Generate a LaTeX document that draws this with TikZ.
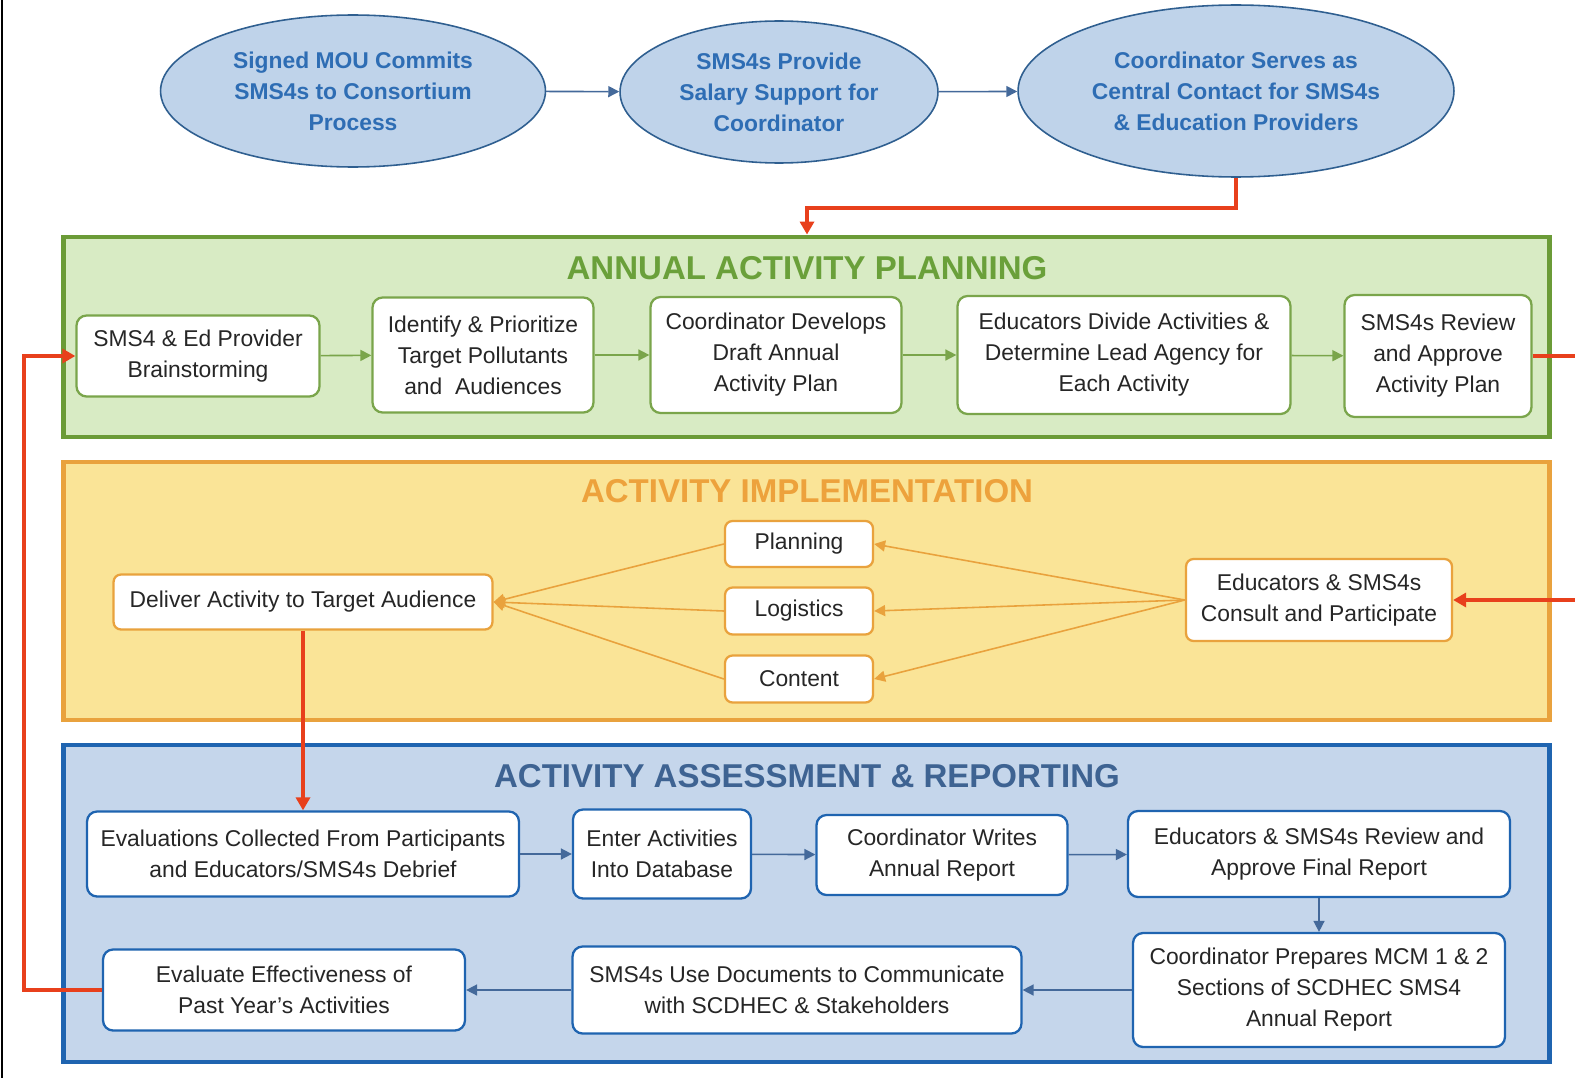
\documentclass[tikz,border=0pt]{standalone}
\usepackage{fontspec}
\setmainfont{Liberation Sans}
\usetikzlibrary{arrows.meta,shapes.geometric}

\definecolor{ovalfill}{HTML}{BFD3EA}
\definecolor{ovaldraw}{HTML}{2F5F90}
\definecolor{ovaltext}{HTML}{2E6DB4}
\definecolor{plangreen}{HTML}{6B9B37}
\definecolor{planfill}{HTML}{D8EBC4}
\definecolor{plantext}{HTML}{6AA03A}
\definecolor{implorange}{HTML}{E9A23D}
\definecolor{implfill}{HTML}{FAE497}
\definecolor{impltext}{HTML}{EDA23C}
\definecolor{assblue}{HTML}{1F64B0}
\definecolor{assfill}{HTML}{C5D6EB}
\definecolor{asstext}{HTML}{3E6392}
\definecolor{arrowblue}{HTML}{44699A}
\definecolor{loopred}{HTML}{E8401C}

\tikzset{
  body/.style={font=\fontsize{13}{17.6}\selectfont, text=black!85},
  frame/.style={rectangle, line width=2.8pt, minimum width=29.74cm},
  heading/.style={font=\fontsize{18.8}{22}\selectfont\bfseries},
  oval/.style={ellipse, draw=ovaldraw, fill=ovalfill, line width=0.9pt, inner sep=0pt,
    align=center, text=ovaltext, font=\fontsize{13}{17.6}\selectfont\bfseries},
  greenbox/.style={body, rectangle, rounded corners=0.2cm, draw=plangreen!90, fill=white,
    line width=1.3pt, align=center},
  orangebox/.style={body, rectangle, rounded corners=0.15cm, draw=implorange, fill=white,
    line width=1.3pt, align=center},
  bluebox/.style={body, rectangle, rounded corners=0.2cm, draw=assblue, fill=white,
    line width=1.3pt, align=center},
  greenarrow/.style={draw=plangreen!90, line width=0.9pt, -{Triangle[length=2.2mm,width=2.2mm]}},
  orangearrow/.style={draw=implorange, line width=0.9pt, -{Triangle[length=2.2mm,width=2.2mm]}},
  bluearrow/.style={draw=arrowblue, line width=0.9pt, -{Triangle[length=2.2mm,width=2.2mm]}},
  redline/.style={draw=loopred, line width=2.2pt, -{Triangle[length=2.6mm,width=2.8mm]}}
}

\begin{document}
\begin{tikzpicture}[x=0.02cm,y=-0.02cm]
  \useasboundingbox[fill=white] (0,0) rectangle (1575,1078);
  \draw[black, line width=0.8pt] (2,0) -- (2,1078);

  % top ovals
  \node[oval, minimum width=7.7cm, minimum height=3.04cm] (mou) at (353,91)
    {Signed MOU Commits\\SMS4s to Consortium\\Process};
  \node[oval, minimum width=6.36cm, minimum height=2.84cm] (support) at (779,92)
    {SMS4s Provide\\Salary Support for\\Coordinator};
  \node[oval, minimum width=8.72cm, minimum height=3.44cm] (central) at (1236,91)
    {Coordinator Serves as\\Central Contact for SMS4s\\\& Education Providers};
  \draw[bluearrow] (mou) -- (support);
  \draw[bluearrow] (support) -- (central);

  % the three frames
  \node[frame, draw=plangreen, fill=planfill, minimum height=4.0cm] (planframe) at (806.5,337) {};
  \node[frame, draw=implorange, fill=implfill, minimum height=5.16cm] (implframe) at (806.5,591) {};
  \node[frame, draw=assblue, fill=assfill, minimum height=6.34cm] (assframe) at (806.5,903.5) {};

  \node[heading, text=plantext] (plantitle) at (807,268) {ANNUAL ACTIVITY PLANNING};
  \node[heading, text=impltext] (impltitle) at (807,491) {ACTIVITY IMPLEMENTATION};
  \node[heading, text=asstext] (asstitle) at (807,776) {ACTIVITY ASSESSMENT \& REPORTING};

  % annual activity planning
  \node[greenbox, minimum width=4.86cm, minimum height=1.62cm] (brain) at (198,356)
    {SMS4 \& Ed Provider\\Brainstorming};
  \node[greenbox, minimum width=4.42cm, minimum height=2.30cm] (prioritize) at (483,355)
    {Identify \& Prioritize\\Target Pollutants\\and\ \ Audiences};
  \node[greenbox, minimum width=5.02cm, minimum height=2.32cm] (draft) at (776,355)
    {Coordinator Develops\\Draft Annual\\Activity Plan};
  \node[greenbox, minimum width=6.66cm, minimum height=2.36cm] (divide) at (1124,355)
    {Educators Divide Activities \&\\Determine Lead Agency for\\Each Activity};
  \node[greenbox, minimum width=3.74cm, minimum height=2.44cm] (approve) at (1438,356)
    {SMS4s Review\\and Approve\\Activity Plan};
  \draw[greenarrow] (brain) -- (prioritize);
  \draw[greenarrow] (prioritize) -- (draft);
  \draw[greenarrow] (draft) -- (divide);
  \draw[greenarrow] (divide) -- (approve);

  % activity implementation
  \node[orangebox, minimum width=7.58cm, minimum height=1.10cm] (deliver) at (303,602)
    {Deliver Activity to Target Audience};
  \node[orangebox, minimum width=2.96cm, minimum height=0.92cm] (planning) at (799,544) {Planning};
  \node[orangebox, minimum width=2.96cm, minimum height=0.94cm] (logistics) at (799,611) {Logistics};
  \node[orangebox, minimum width=2.96cm, minimum height=0.94cm] (content) at (799,679) {Content};
  \node[orangebox, minimum width=5.32cm, minimum height=1.64cm] (consult) at (1319,600)
    {Educators \& SMS4s\\Consult and Participate};
  \foreach \part in {planning,logistics,content}{
    \draw[orangearrow] (consult.west) -- (\part.east);
    \draw[orangearrow] (\part.west) -- (deliver.east);
  }

  % activity assessment and reporting
  \node[bluebox, minimum width=8.64cm, minimum height=1.70cm] (collect) at (303,854)
    {Evaluations Collected From Participants\\and Educators/SMS4s Debrief};
  \node[bluebox, minimum width=3.56cm, minimum height=1.78cm] (database) at (662,854)
    {Enter Activities\\Into Database};
  \node[bluebox, minimum width=5.02cm, minimum height=1.60cm] (writes) at (942,855)
    {Coordinator Writes\\Annual Report};
  \node[bluebox, minimum width=7.64cm, minimum height=1.72cm] (final) at (1319,854)
    {Educators \& SMS4s Review and\\Approve Final Report};
  \node[bluebox, minimum width=7.44cm, minimum height=2.28cm] (mcm) at (1319,990)
    {Coordinator Prepares MCM 1 \& 2\\Sections of SCDHEC SMS4\\Annual Report};
  \node[bluebox, minimum width=8.98cm, minimum height=1.74cm] (communicate) at (797,990)
    {SMS4s Use Documents to Communicate\\with SCDHEC \& Stakeholders};
  \node[bluebox, minimum width=7.24cm, minimum height=1.62cm] (effect) at (284,990)
    {Evaluate Effectiveness of\\Past Year's Activities};
  \draw[bluearrow] (collect) -- (database);
  \draw[bluearrow] (database) -- (writes);
  \draw[bluearrow] (writes) -- (final);
  \draw[bluearrow] (final) -- (mcm);
  \draw[bluearrow] (mcm) -- (communicate);
  \draw[bluearrow] (communicate) -- (effect);

  % red links between the stages
  \draw[redline] (central.south) -- ++(0,30) -| (plantitle |- planframe.north);
  \draw[redline] (approve.east) -- ++(70,0) |- (consult.east);
  \draw[redline] (deliver.south) -- (collect.north);
  \draw[redline] (effect.west) -- ++(-78,0) |- (brain.west);
\end{tikzpicture}
\end{document}
